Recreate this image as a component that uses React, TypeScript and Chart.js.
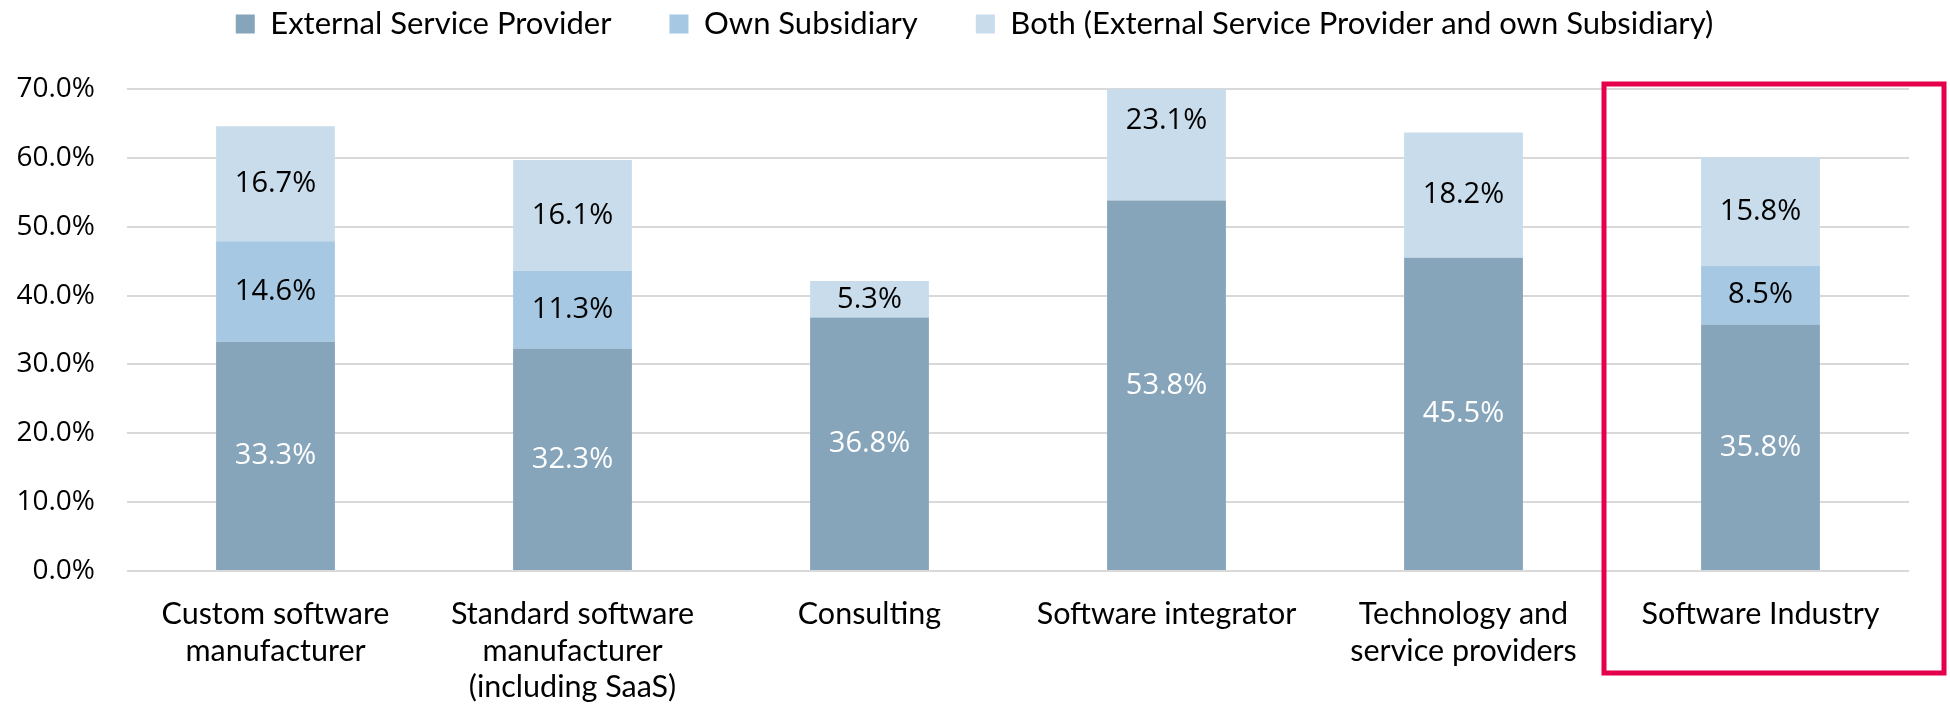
import React, { useEffect, useRef } from "react";
import { Chart, registerables } from "chart.js";

Chart.register(...registerables);

const categories: (string | string[])[] = [
  ["Custom software", "manufacturer"],
  ["Standard software", "manufacturer", "(including SaaS)"],
  "Consulting",
  "Software integrator",
  ["Technology and", "service providers"],
  "Software Industry",
];

const externalProvider: (number | null)[] = [33.3, 32.3, 36.8, 53.8, 45.5, 35.8];
const ownSubsidiary: (number | null)[] = [14.6, 11.3, null, null, null, 8.5];
const bothProviders: (number | null)[] = [16.7, 16.1, 5.3, 23.1, 18.2, 15.8];

const seriesNames = [
  "External Service Provider",
  "Own Subsidiary",
  "Both (External Service Provider and own Subsidiary)",
];
const seriesColors = ["#86A4BA", "#A6C8E2", "#C9DCEB"];
const labelColors = ["#FFFFFF", "#000000", "#000000"];

const yMin = 0;
const yMax = 70;
const yStep = 10;

const LEGEND_FONT = 31;
const LEGEND_PAD = 58;
const LEGEND_HEIGHT = 89;
const LEGEND_CENTER = 24;
const LEGEND_SHIFT_X = 20;

const legendLayoutPlugin = {
  id: "legendLayout",
  afterInit(chart: any) {
    const lg = chart.legend;
    if (!lg) return;
    const orig = lg.fit.bind(lg);
    lg.fit = () => {
      orig();
      lg.height = LEGEND_HEIGHT;
    };
  },
  afterLayout(chart: any) {
    const lg = chart.legend;
    if (!lg) return;
    const itemTop = LEGEND_CENTER - LEGEND_FONT / 2;
    const newTop = itemTop - LEGEND_PAD;
    const shift = newTop - lg.top;
    lg.top += shift;
    lg.bottom += shift;
    lg.left += LEGEND_SHIFT_X;
    lg.right += LEGEND_SHIFT_X;
  },
};

const dataLabelPlugin = {
  id: "dataLabels",
  afterDatasetsDraw(chart: any) {
    const ctx = chart.ctx;
    ctx.save();
    ctx.font = "29px 'Open Sans'";
    ctx.textAlign = "center";
    ctx.textBaseline = "middle";
    chart.data.datasets.forEach((ds: any, di: number) => {
      const meta = chart.getDatasetMeta(di);
      meta.data.forEach((el: any, i: number) => {
        const v = ds.data[i];
        if (v === null || v === undefined || v === 0) return;
        const props = el.getProps(["x", "y", "base"], true);
        ctx.fillStyle = labelColors[di];
        ctx.fillText(v.toFixed(1) + "%", props.x, (props.y + props.base) / 2);
      });
    });
    ctx.restore();
  },
};

const highlightPlugin = {
  id: "highlightBox",
  afterDraw(chart: any) {
    const x = chart.scales.x;
    const y = chart.scales.y;
    const last = chart.data.labels.length - 1;
    const c = x.getPixelForValue(last);
    const half = (x.getPixelForValue(last) - x.getPixelForValue(last - 1)) / 2;
    const left = c - half - 8;
    const right = c + half + 35;
    const top = y.getPixelForValue(yMax) - 5;
    const bottom = chart.chartArea.bottom + 102;
    const ctx = chart.ctx;
    ctx.save();
    ctx.strokeStyle = "#E4004B";
    ctx.lineWidth = 5;
    ctx.strokeRect(left, top, right - left, bottom - top);
    ctx.restore();
  },
};

export default function App() {
  const canvasRef = useRef<HTMLCanvasElement | null>(null);

  useEffect(() => {
    if (!canvasRef.current) return;
    const chart = new Chart(canvasRef.current, {
      type: "bar",
      data: {
        labels: categories,
        datasets: [externalProvider, ownSubsidiary, bothProviders].map((d, i) => ({
          label: seriesNames[i],
          data: d,
          backgroundColor: seriesColors[i],
          borderWidth: 0,
          categoryPercentage: 1,
          barPercentage: 0.4,
        })),
      },
      options: {
        animation: false,
        responsive: true,
        maintainAspectRatio: false,
        layout: { padding: { top: 0, right: 41, left: 0, bottom: 0 } },
        plugins: {
          legend: {
            display: true,
            position: "top",
            align: "center",
            labels: {
              boxWidth: 19,
              boxHeight: 19,
              padding: LEGEND_PAD,
              color: "#000",
              font: { family: "Lato", size: LEGEND_FONT },
            },
          },
          tooltip: { enabled: false },
        },
        scales: {
          x: {
            stacked: true,
            grid: { display: false, drawTicks: false },
            border: { display: false },
            ticks: {
              color: "#000",
              padding: 25,
              font: { family: "Lato", size: 30.5, lineHeight: 1.2 },
              maxRotation: 0,
              autoSkip: false,
            },
            afterFit(s: any) {
              s.height = 140;
            },
          },
          y: {
            stacked: true,
            min: yMin,
            max: yMax,
            grid: { color: "#D9D9D9", lineWidth: 2, drawTicks: false },
            border: { display: false },
            ticks: {
              stepSize: yStep,
              color: "#000",
              padding: 32,
              font: { family: "Open Sans", size: 28 },
              callback: (v: any) => Number(v).toFixed(1) + "%",
            },
            afterFit(s: any) {
              s.width = 127;
            },
          },
        },
      },
      plugins: [legendLayoutPlugin, dataLabelPlugin, highlightPlugin],
    });
    return () => chart.destroy();
  }, []);

  return (
    <div style={{ position: "fixed", left: 0, top: 0, width: 1950, height: 711, background: "#fff" }}>
      <canvas ref={canvasRef} />
    </div>
  );
}
